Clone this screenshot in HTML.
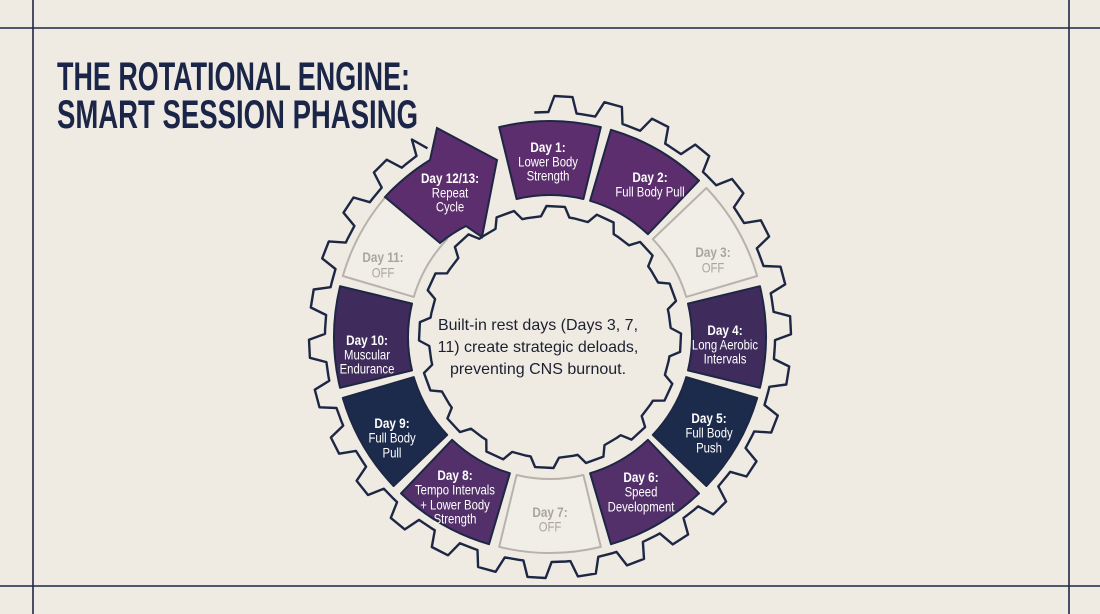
<!DOCTYPE html>
<html><head><meta charset="utf-8"><style>
html,body{margin:0;padding:0;background:#efebe3;}
svg{display:block}
.h,.b{font-family:"Liberation Sans Narrow","Liberation Sans",sans-serif;text-anchor:middle;dominant-baseline:central;transform-box:fill-box;transform-origin:center;transform:scaleX(0.84)}
.h{font-weight:bold;font-size:14px}
.b{font-size:13.5px}
.w{fill:#fff}.g{fill:#a9a59e}
</style></head><body>
<svg id="s" width="1100" height="614" viewBox="0 0 1100 614" xmlns="http://www.w3.org/2000/svg">
<rect width="1100" height="614" fill="#efebe3"/>
<g stroke="#1d2744" stroke-width="1.6">
<line x1="0" y1="28" x2="1100" y2="28"/><line x1="0" y1="586" x2="1100" y2="586"/>
<line x1="33" y1="0" x2="33" y2="614"/><line x1="1069" y1="0" x2="1069" y2="614"/>
</g>
<g font-family="Liberation Sans Narrow, Liberation Sans, sans-serif" font-weight="bold" font-size="40" fill="#1b2547">
<text x="57" y="90" textLength="353" lengthAdjust="spacingAndGlyphs">THE ROTATIONAL ENGINE:</text>
<text x="57" y="128" textLength="361" lengthAdjust="spacingAndGlyphs">SMART SESSION PHASING</text>
</g>
<g id="shapes"></g>
<path d="M385,197 A216,216 0 0 1 430,160 L437,128 L497,160 L482,237 L466,226 A145,145 0 0 0 440,243 Z" fill="#5c2e6d" stroke="#1d2744" stroke-width="2"/>
<g>
<text class="h w" x="548" y="147">Day 1:</text><text class="b w" x="548" y="162">Lower Body</text><text class="b w" x="548" y="176">Strength</text>
<text class="h w" x="650" y="177">Day 2:</text><text class="b w" x="650" y="192">Full Body Pull</text>
<text class="h g" x="713" y="252">Day 3:</text><text class="b g" x="713" y="268">OFF</text>
<text class="h w" x="725" y="330">Day 4:</text><text class="b w" x="725" y="345">Long Aerobic</text><text class="b w" x="725" y="359">Intervals</text>
<text class="h w" x="709" y="418">Day 5:</text><text class="b w" x="709" y="433">Full Body</text><text class="b w" x="709" y="448">Push</text>
<text class="h w" x="641" y="477">Day 6:</text><text class="b w" x="641" y="492">Speed</text><text class="b w" x="641" y="507">Development</text>
<text class="h g" x="550" y="512">Day 7:</text><text class="b g" x="550" y="527">OFF</text>
<text class="h w" x="455" y="475">Day 8:</text><text class="b w" x="455" y="490">Tempo Intervals</text><text class="b w" x="455" y="505">+ Lower Body</text><text class="b w" x="455" y="519">Strength</text>
<text class="h w" x="392" y="423">Day 9:</text><text class="b w" x="392" y="438">Full Body</text><text class="b w" x="392" y="453">Pull</text>
<text class="h w" x="367" y="340">Day 10:</text><text class="b w" x="367" y="355">Muscular</text><text class="b w" x="367" y="369">Endurance</text>
<text class="h g" x="383" y="257">Day 11:</text><text class="b g" x="383" y="273">OFF</text>
<text class="h w" x="450" y="178">Day 12/13:</text><text class="b w" x="450" y="193">Repeat</text><text class="b w" x="450" y="207">Cycle</text>
</g>
<g font-family="Liberation Sans, sans-serif" font-size="16" fill="#1d2030" text-anchor="middle">
<text x="538" y="330">Built-in rest days (Days 3, 7,</text>
<text x="538" y="352">11) create strategic deloads,</text>
<text x="538" y="374">preventing CNS burnout.</text>
</g>
</svg>
<script>
(function(){
var cx=550,cy=337,NS="http://www.w3.org/2000/svg",g=document.getElementById('shapes');
function P(r,a){a=a*Math.PI/180;return (cx+r*Math.cos(a)).toFixed(1)+","+(cy+r*Math.sin(a)).toFixed(1);}
function add(d,f,s,w){var p=document.createElementNS(NS,'path');p.setAttribute('d',d);p.setAttribute('fill',f);p.setAttribute('stroke',s);p.setAttribute('stroke-width',w);p.setAttribute('stroke-linejoin','round');g.appendChild(p);}
function gear(rb,rt,N,a0,a1,closed){
 var st=360/N,d="",first=true;
 for(var a=a0;a<a1-0.01;a+=st){
  var pts=[[rb,a],[rb,a+st*0.3],[rt,a+st*0.42],[rt,a+st*0.78],[rb,a+st*0.9]];
  for(var i=0;i<pts.length;i++){ if(pts[i][1]>a1)break; d+=(first?"M":"L")+P(pts[i][0],pts[i][1]);first=false;}
 }
 d+="L"+P(rb,a1);
 if(closed)d+="Z";
 add(d,"none","#1d2744",2.4);
}
gear(225,241,30,-94,237,false);
gear(121,131,16,-101,259,true);
var cols=["#5c2e6d","#5c2e6d","off","#3f2c5d","#1c2a4b","#53306a","off","#53306a","#1c2a4b","#3f2c5d","off"];
for(var k=0;k<11;k++){
 var c=-90+k*30,a=c-13.6,b=c+13.6,ri=142,ro=216;
 var d="M"+P(ri,a)+"L"+P(ro,a)+"A"+ro+","+ro+" 0 0 1 "+P(ro,b)+"L"+P(ri,b)+"A"+ri+","+ri+" 0 0 0 "+P(ri,a)+"Z";
 if(cols[k]=="off")add(d,"#f1eee8","#b7b3ac",2);else add(d,cols[k],"#1d2744",2);
}
})();
</script>
</body></html>
